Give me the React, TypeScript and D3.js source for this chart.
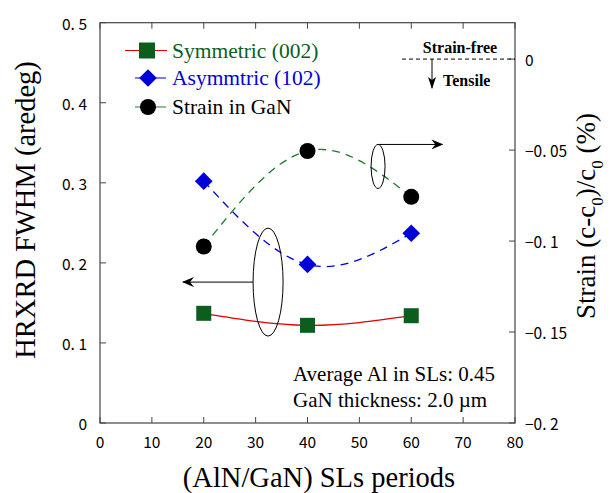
import React from 'react';
import * as d3 from 'd3';

// SL periods on the x axis
const periods = [20, 40, 60];
// FWHM (arcdeg), left axis
const symmetric002 = [0.137, 0.122, 0.134];
const asymmetric102 = [0.302, 0.198, 0.237];
// strain (%), right axis
const strainGaN = [-0.103, -0.0505, -0.0757];

const xTicks = [0, 10, 20, 30, 40, 50, 60, 70, 80];
const leftTicks = [0, 0.1, 0.2, 0.3, 0.4, 0.5];
const rightTicks = [0, -0.05, -0.1, -0.15, -0.2];

const legendLabels = ['Symmetric (002)', 'Asymmtric (102)', 'Strain in GaN'];
const noteLines = ['Average Al in SLs: 0.45', 'GaN thickness: 2.0 \u00b5m'];

const serif = 'Liberation Serif, DejaVu Serif, serif';
const tickFont = 'Noto Sans CJK JP, DejaVu Sans, sans-serif';

const GREEN_MARK = '#0b5e1e';
const GREEN_LINE = '#1d7a2e';
const BLUE = '#0000d8';
const RED = '#e00000';
const AXIS = '#444';

const fmt = (d: number) => {
  if (d === 0) return '0';
  const s = Math.abs(d).toString().replace('.', '. ');
  return (d < 0 ? '\u2212' : '') + s;
};

export default function App() {
  const width = 612, height = 493;
  const left = 100, right = 515, top = 22.7, bottom = 423;

  const x = d3.scaleLinear().domain([0, 80]).range([left, right]);
  const y = d3.scaleLinear().domain([0, 0.5]).range([bottom, top]);
  const y2 = d3.scaleLinear().domain([-0.2, 0.02]).range([bottom, top]);

  const lineL = (vals: number[]) =>
    d3.line<number>().x((_, i) => x(periods[i])).y(d => y(d)).curve(d3.curveNatural)(vals) || '';
  const lineR = (vals: number[]) =>
    d3.line<number>().x((_, i) => x(periods[i])).y(d => y2(d)).curve(d3.curveNatural)(vals) || '';

  const diamond = d3.symbol().type(d3.symbolDiamond2).size(200)() || '';

  // annotation ellipses in data units
  const bigEll = { cx: x(32.4), cy: y(0.176), rx: 15, ry: 54, arrowTo: x(16) };
  const smallEll = { cx: x(53.6), cy: y2(-0.059), rx: 7, ry: 22, arrowTo: x(66) };

  const legendY = [50.5, 78, 107];
  const serifStyle = { fontFamily: serif };
  const tickStyle = { fontFamily: tickFont };

  return (
    <svg width={width} height={height} style={{ position: 'absolute', left: 0, top: 0, background: '#fff' }}>
      <defs>
        <marker id="arr" viewBox="0 0 12 10" refX="11" refY="5" markerWidth="12" markerHeight="10" markerUnits="userSpaceOnUse" orient="auto">
          <path d="M0,0 L12,5 L0,10 L4,5 z" fill="#000" />
        </marker>
        <marker id="arrD" viewBox="0 0 12 8" refX="11" refY="4" markerWidth="12" markerHeight="8" markerUnits="userSpaceOnUse" orient="auto">
          <path d="M0,0 L12,4 L0,8 L3,4 z" fill="#000" />
        </marker>
      </defs>

      {/* frame */}
      <rect x={left} y={top} width={right - left} height={bottom - top} fill="none" stroke={AXIS} strokeWidth={1.2} />

      {/* x ticks */}
      {xTicks.map(t => (
        <g key={'x' + t}>
          <line x1={x(t)} x2={x(t)} y1={bottom} y2={bottom - 6} stroke={AXIS} />
          <line x1={x(t)} x2={x(t)} y1={top} y2={top + 6} stroke={AXIS} />
          <text x={x(t)} y={441} textAnchor="middle" dominantBaseline="central" style={tickStyle} fontSize={15.5}>{t}</text>
        </g>
      ))}
      {/* left ticks */}
      {leftTicks.map(t => (
        <g key={'l' + t}>
          <line x1={left} x2={left + 6} y1={y(t)} y2={y(t)} stroke={AXIS} />
          <text x={87} y={y(t)} textAnchor="end" dominantBaseline="central" style={tickStyle} fontSize={15.5}>{fmt(t)}</text>
        </g>
      ))}
      {/* right ticks */}
      {rightTicks.map(t => (
        <g key={'r' + t}>
          <line x1={right} x2={right - 6} y1={y2(t)} y2={y2(t)} stroke={AXIS} />
          <text x={525} y={y2(t)} textAnchor="start" dominantBaseline="central" style={tickStyle} fontSize={15.5}>{fmt(t)}</text>
        </g>
      ))}

      {/* axis titles */}
      <text x={319} y={487} textAnchor="middle" style={serifStyle} fontSize={28.5}>(AlN/GaN) SLs periods</text>
      <text transform="translate(35,210) rotate(-90)" textAnchor="middle" style={serifStyle} fontSize={28.5}>HRXRD FWHM (aredeg)</text>
      <text transform="translate(595,216) rotate(-90)" textAnchor="middle" style={serifStyle} fontSize={27}>
        Strain (c-c<tspan fontSize={17} dy={8}>0</tspan><tspan dy={-8}>)/c</tspan><tspan fontSize={17} dy={8}>0</tspan><tspan dy={-8}> (%)</tspan>
      </text>

      {/* strain-free reference */}
      <line x1={402} x2={right} y1={y2(0)} y2={y2(0)} stroke="#000" strokeDasharray="4,3" />
      <text x={460} y={53} textAnchor="middle" style={serifStyle} fontSize={16} fontWeight="bold">Strain-free</text>
      <line x1={432} x2={432} y1={y2(0)} y2={y2(0) + 29} stroke="#000" markerEnd="url(#arrD)" />
      <text x={443} y={86} style={serifStyle} fontSize={16} fontWeight="bold">Tensile</text>

      {/* fit curves */}
      <path d={lineR(strainGaN)} fill="none" stroke={GREEN_LINE} strokeWidth={1.3} strokeDasharray="8,6" />
      <path d={lineL(asymmetric102)} fill="none" stroke={BLUE} strokeWidth={1.3} strokeDasharray="8,6" />
      <path d={lineL(symmetric002)} fill="none" stroke={RED} strokeWidth={1.3} />

      {/* annotations */}
      <ellipse cx={bigEll.cx} cy={bigEll.cy} rx={bigEll.rx} ry={bigEll.ry} fill="none" stroke="#000" />
      <line x1={bigEll.cx - bigEll.rx} x2={bigEll.arrowTo} y1={bigEll.cy} y2={bigEll.cy} stroke="#000" markerEnd="url(#arr)" />
      <ellipse cx={smallEll.cx} cy={smallEll.cy} rx={smallEll.rx} ry={smallEll.ry} fill="none" stroke="#000" />
      <line x1={smallEll.cx} x2={smallEll.arrowTo} y1={smallEll.cy - smallEll.ry} y2={smallEll.cy - smallEll.ry} stroke="#000" markerEnd="url(#arr)" />

      {/* markers */}
      {symmetric002.map((v, i) => (
        <rect key={'s' + i} x={x(periods[i]) - 7.5} y={y(v) - 7.5} width={15} height={15} fill={GREEN_MARK} />
      ))}
      {asymmetric102.map((v, i) => (
        <path key={'a' + i} d={diamond} transform={`translate(${x(periods[i])},${y(v)})`} fill={BLUE} />
      ))}
      {strainGaN.map((v, i) => (
        <circle key={'c' + i} cx={x(periods[i])} cy={y2(v)} r={8} fill="#000" />
      ))}

      {/* legend */}
      <line x1={125} x2={167} y1={legendY[0]} y2={legendY[0]} stroke={RED} />
      <rect x={139} y={legendY[0] - 8} width={16} height={16} fill={GREEN_MARK} />
      <text x={172} y={legendY[0]} dominantBaseline="central" style={serifStyle} fontSize={21.5} fill={GREEN_MARK}>{legendLabels[0]}</text>
      <line x1={135} x2={166} y1={legendY[1]} y2={legendY[1]} stroke={BLUE} />
      <path d={diamond} transform={`translate(148,${legendY[1]})`} fill={BLUE} />
      <text x={172} y={legendY[1]} dominantBaseline="central" style={serifStyle} fontSize={21.5} fill={BLUE}>{legendLabels[1]}</text>
      <line x1={135} x2={166} y1={legendY[2]} y2={legendY[2]} stroke={GREEN_LINE} />
      <circle cx={148} cy={legendY[2]} r={8} fill="#000" />
      <text x={172} y={legendY[2]} dominantBaseline="central" style={serifStyle} fontSize={21.5} fill="#000">{legendLabels[2]}</text>

      {/* notes */}
      <text x={293} y={381} style={serifStyle} fontSize={21}>{noteLines[0]}</text>
      <text x={293} y={407} style={serifStyle} fontSize={21}>{noteLines[1]}</text>
    </svg>
  );
}
